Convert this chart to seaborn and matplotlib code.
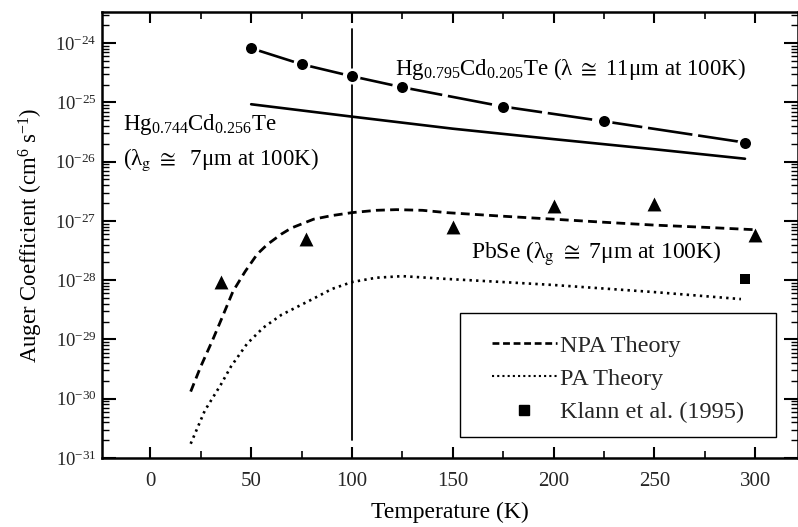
import numpy as np
import pandas as pd
import matplotlib
matplotlib.use("Agg")
import matplotlib.pyplot as plt
import seaborn as sns
from matplotlib.lines import Line2D
from matplotlib.patches import Rectangle
from matplotlib.ticker import FixedLocator, MultipleLocator

# ---------------- data ----------------
hg795_T = [50, 75, 100, 125, 175, 225, 295]
hg795_C = [8.2e-25, 4.4e-25, 2.76e-25, 1.8e-25, 8.5e-26, 4.8e-26, 2.1e-26]

hg744_T = [50, 100, 150, 200, 250, 295]
hg744_C = [9.3e-26, 5.75e-26, 3.6e-26, 2.4e-26, 1.62e-26, 1.12e-26]

npa_T = [20, 25, 31, 35, 41, 47, 53, 58, 65, 70, 81, 90, 100, 112, 122, 135, 147, 175, 200, 225, 250, 275, 300]
npa_C = [1.32e-30, 3.5e-30, 1.0e-29, 2.1e-29, 6.5e-29, 1.4e-28, 2.75e-28, 4.0e-28, 6.0e-28, 7.6e-28,
         1.07e-27, 1.23e-27, 1.38e-27, 1.51e-27, 1.55e-27, 1.51e-27, 1.38e-27, 1.2e-27, 1.07e-27,
         9.5e-28, 8.5e-28, 7.8e-28, 7.1e-28]

pa_T = [20, 27, 35, 40, 48, 56, 65, 81, 90, 100, 112, 125, 147, 175, 200, 250, 293]
pa_C = [1.74e-31, 6.3e-31, 1.74e-30, 3.5e-30, 8.5e-30, 1.58e-29, 2.6e-29, 4.9e-29, 7.1e-29,
        9.3e-29, 1.1e-28, 1.17e-28, 1.05e-28, 9.3e-29, 8.3e-29, 6.3e-29, 4.8e-29]

pbse_T = [35, 77, 150, 200, 250, 300]
pbse_C = [9.5e-29, 4.9e-28, 7.9e-28, 1.8e-27, 1.95e-27, 5.8e-28]

klann_T = [295]
klann_C = [1.05e-28]

vline_T = [100, 100]
vline_C = [2.0e-31, 1.7e-24]

x_ticks = [0, 50, 100, 150, 200, 250, 300]
y_ticks = [1e-31, 1e-30, 1e-29, 1e-28, 1e-27, 1e-26, 1e-25, 1e-24]
legend_labels = ['NPA Theory', 'PA Theory', 'Klann et al. (1995)']

# ---------------- style ----------------
sns.set_theme(style="ticks")
plt.rcParams['font.family'] = ['Liberation Serif', 'DejaVu Serif']
plt.rcParams['mathtext.fontset'] = 'stix'
plt.rcParams['mathtext.default'] = 'regular'
plt.rcParams['axes.unicode_minus'] = False

fig = plt.figure(figsize=(7.98, 5.27), dpi=100)
ax = fig.add_axes([102/798, 1-458/527, 696/798, 446/527])
ax.set_yscale('log')

K = 'black'
sns.lineplot(x=vline_T, y=vline_C, ax=ax, color=K, lw=1.3, estimator=None, sort=False)
sns.lineplot(x=hg744_T, y=hg744_C, ax=ax, color=K, lw=1.9, estimator=None)
sns.lineplot(x=hg795_T, y=hg795_C, ax=ax, color=K, lw=1.9, estimator=None,
             linestyle=(0, (17, 2.2)))
sns.scatterplot(x=hg795_T, y=hg795_C, ax=ax, color=K, marker='o', s=95,
                edgecolor='white', linewidth=1.8, zorder=5)
sns.lineplot(x=npa_T, y=npa_C, ax=ax, color=K, lw=2.0, estimator=None,
             linestyle=(0, (3.2, 1.9)))
sns.lineplot(x=pa_T, y=pa_C, ax=ax, color=K, lw=1.9, estimator=None,
             linestyle=(0, (0.9, 1.6)))
sns.scatterplot(x=pbse_T, y=pbse_C, ax=ax, color=K, marker='^', s=100,
                edgecolor=K, linewidth=0, zorder=5)
sns.scatterplot(x=klann_T, y=klann_C, ax=ax, color=K, marker='s', s=50,
                edgecolor=K, linewidth=0, zorder=5)

ax.set_xlim(-24, 321.3)
ax.set_ylim(1e-31, 10**-23.475)
ax.set_xticks(x_ticks)
ax.xaxis.set_minor_locator(MultipleLocator(25))
ax.yaxis.set_major_locator(FixedLocator(y_ticks))
minor_y = [m * d for d in y_ticks for m in range(2, 10)]
ax.yaxis.set_minor_locator(FixedLocator(minor_y))
ax.set_yticks(y_ticks)
ax.set_yticklabels([f'$10^{{{int(round(np.log10(v)))}}}$' for v in y_ticks])

ax.tick_params(axis='both', which='both', direction='in', top=True, right=True, color=K)
ax.tick_params(axis='y', which='major', length=10, width=1.5, labelsize=13.5, pad=4)
ax.tick_params(axis='y', which='minor', length=5, width=1.0)
ax.tick_params(axis='x', which='major', length=8, width=1.5, labelsize=15, pad=10)
ax.tick_params(axis='x', which='minor', length=5, width=1.2)
for sp in ax.spines.values():
    sp.set_linewidth(1.8)
    sp.set_color(K)

ax.set_xlabel('Temperature (K)', fontsize=17, color=K, labelpad=8)
ax.set_ylabel('Auger Coefficient (cm$^{6}$ s$^{-1}$)', fontsize=16.4, color=K, labelpad=7)

ax.text(121.5, 10**-24.54, 'Hg$_{0.795}$Cd$_{0.205}$Te (λ ${\\cong}$ 11μm at 100K)',
        fontsize=16.5, ha='left', va='baseline', color=K)
ax.text(-13.4, 10**-25.47, 'Hg$_{0.744}$Cd$_{0.256}$Te',
        fontsize=16.5, ha='left', va='baseline', color=K)
ax.text(-13.4, 10**-26.05, '(λ$_{\\mathrm{g}}$ ${\\cong}$  7μm at 100K)',
        fontsize=16.5, ha='left', va='baseline', color=K)
ax.text(159, 10**-27.64, 'PbSe (λ$_{\\mathrm{g}}$ ${\\cong}$ 7μm at 100K)',
        fontsize=17, ha='left', va='baseline', color=K)

# legend box frame
ax.add_patch(Rectangle((358/696, 21/446), 316/696, 124/446, transform=ax.transAxes,
                       facecolor='white', edgecolor=K, lw=1.0, zorder=6))
handles = [
    Line2D([], [], color=K, lw=1.9, linestyle=(0, (2.6, 1.4))),
    Line2D([], [], color=K, lw=1.5, linestyle=(0, (1.0, 1.5))),
    Line2D([], [], color=K, lw=0, marker='s', markersize=7),
]
leg = ax.legend(handles, legend_labels,
                loc='center', bbox_to_anchor=(516/696, 79/446), fontsize=17.5,
                frameon=False, handlelength=2.7, handletextpad=0.12, borderpad=0.0,
                labelspacing=0.46, borderaxespad=0)
leg.set_zorder(7)

fig.savefig('out.png', dpi=100)
